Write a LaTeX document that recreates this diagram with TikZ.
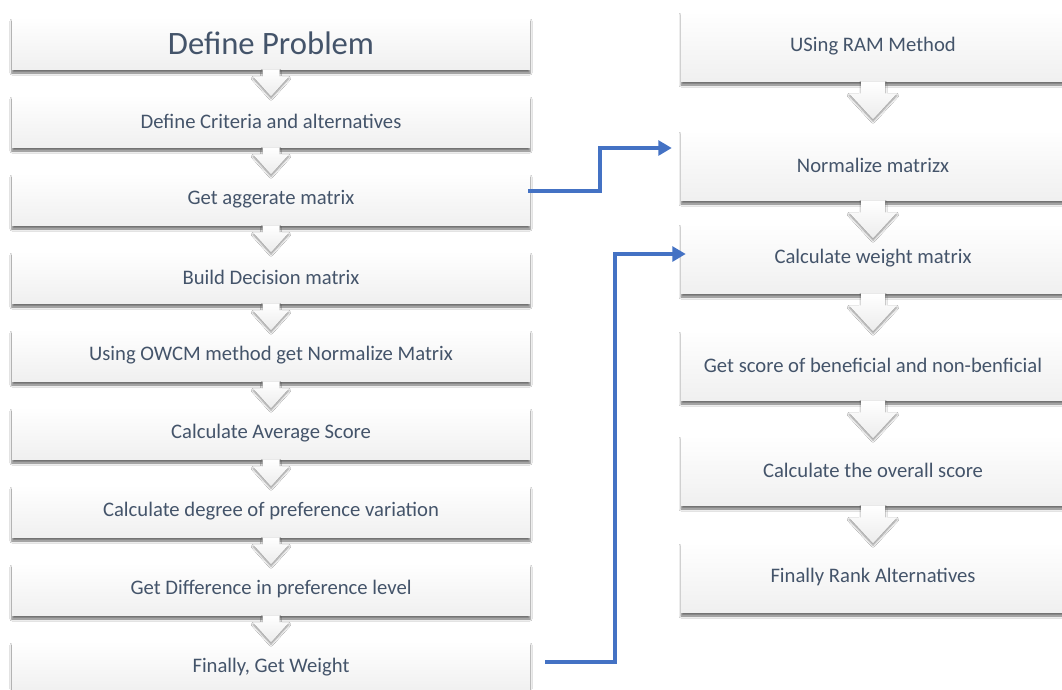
\documentclass[tikz,border=0pt]{standalone}
\usepackage{fontspec}
\setmainfont{Carlito}
\usetikzlibrary{positioning,calc,shadows.blur,arrows.meta}
\definecolor{txtgray}{HTML}{44546A}
\definecolor{linkblue}{HTML}{4472C4}
\tikzset{
  lbox/.style={minimum width=388.5pt,minimum height=39pt,inner sep=0pt,
    top color=white,bottom color=gray!12,text=txtgray,font=\fontsize{15.5}{18}\selectfont,
    blur shadow={shadow xshift=0pt,shadow yshift=-3pt,shadow blur radius=1.5pt,
      shadow blur steps=5,shadow opacity=55}},
  rbox/.style={lbox,minimum width=288pt,minimum height=52.5pt},
  chev/.style={top color=white,bottom color=gray!15,
    blur shadow={shadow xshift=0pt,shadow yshift=-1.5pt,shadow blur radius=1.5pt,
      shadow blur steps=5,shadow opacity=45}},
  link/.style={draw=linkblue,line width=3pt,-{Triangle[length=10pt,width=11pt]}}
}

\begin{document}
\begin{tikzpicture}[x=0.75pt,y=-0.75pt]
    \useasboundingbox (0,0) rectangle (1062,689);
    \fill[white] (0,0) rectangle (1062,689);
    % left column
    \node (l1) [lbox,font=\fontsize{24.5}{28}\selectfont] at (271, 43) {Define Problem};
    \node (l2) [lbox] at (271, 121) {Define Criteria and alternatives};
    \node (l3) [lbox] at (271, 199) {Get aggerate matrix};
    \node (l4) [lbox] at (271, 277) {Build Decision matrix};
    \node (l5) [lbox] at (271, 355) {Using OWCM method get Normalize Matrix};
    \node (l6) [lbox] at (271, 433) {Calculate Average Score};
    \node (l7) [lbox] at (271, 511) {Calculate degree of preference variation};
    \node (l8) [lbox] at (271, 589) {Get Difference in preference level};
    \node (l9) [lbox] at (271, 667) {Finally, Get Weight};
    % right column
    \node (r1) [rbox] at (873, 46) {USing RAM Method};
    \node (r2) [rbox] at (873, 165) {Normalize matrizx};
    \node (r3) [rbox] at (873, 258) {Calculate weight matrix};
    \node (r4) [rbox] at (873, 365) {Get score of beneficial and non-benficial};
    \node (r5) [rbox] at (873, 470) {Calculate the overall score};
    \node (r6) [rbox] at (873, 577) {Finally Rank Alternatives};
    % down arrows
    \foreach \a in {l1,l2,l3,l4,l5,l6,l7,l8}
      \path[chev] ($(\a.south)+(-8.5,0)$) -- ++(17,0) -- ++(0,7) -- ++(9.5,0)
        -- ++(-18,20) -- ++(-18,-20) -- ++(9.5,0) -- cycle;
    \foreach \a in {r1,r2,r3,r4,r5}
      \path[chev] ($(\a.south)+(-12,0)$) -- ++(24,0) -- ++(0,12) -- ++(12,0)
        -- ++(-24,26) -- ++(-24,-26) -- ++(12,0) -- cycle;
    % links between columns
    \draw[link] ($(l3.east)+(-2,-8)$) -- ++(72,0) |- ($(r2.west)+(-9,-17)$);
    \draw[link] ($(l9.east)+(15,-5)$) -- ++(70,0) |- ($(r3.west)+(5,-4)$);
\end{tikzpicture}
\end{document}
